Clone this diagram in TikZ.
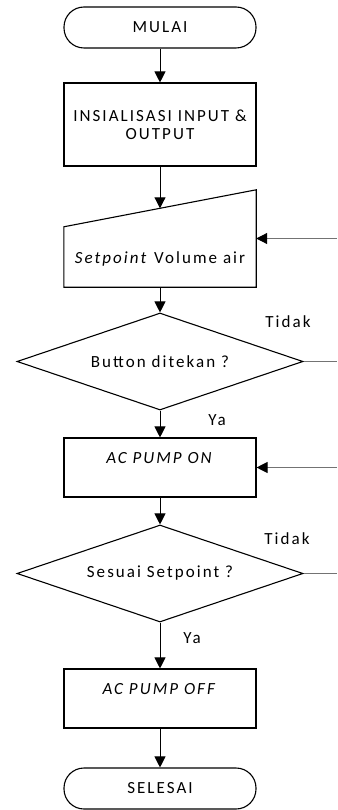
\documentclass[tikz,border=0pt]{standalone}
\usepackage{fontspec}
\setmainfont{Carlito}[LetterSpace=12]
\usetikzlibrary{arrows.meta,shapes.geometric}

\tikzset{
    term/.style={draw, rectangle, rounded corners=20pt, minimum width=192pt, minimum height=41pt, line width=1.1pt},
    proc/.style={draw, rectangle, minimum width=192pt, line width=1.1pt, align=center},
    decision/.style={draw, diamond, aspect=2.95, minimum width=286pt, minimum height=97pt, inner sep=0pt, line width=1.1pt},
    flow/.style={-{Triangle[length=11pt,width=11pt,color=black]}, line width=1pt},
    back/.style={black!55, line width=1pt}
}

\begin{document}
\begin{tikzpicture}[x=1pt, y=-1pt, font=\fontsize{17}{18}\selectfont]
    \useasboundingbox (0,0) rectangle (337,810);
    \coordinate (edge) at (337,0);

    % Main column
    \node[term] (mulai) at (160,27.5) {MULAI};
    \node[proc, minimum height=83pt] (init) at (160,124.5) {INSIALISASI INPUT \&\\OUTPUT};

    % Manual input box
    \node[minimum width=192pt, minimum height=97pt, inner sep=0pt] (setp) at (160,238.5) {};
    \draw[line width=1.1pt] (setp.south west) -- (setp.south east) -- (setp.north east)
        -- ([yshift=-37pt]setp.north west) -- cycle;
    \coordinate (setptop) at ([yshift=-18.5pt]setp.north);
    \node (setptxt) at (160,259) {\textit{Setpoint} Volume air};

    \node[decision] (btn) at (160,361.5) {Button ditekan ?};
    \node[proc, minimum height=59pt, text depth=19pt] (on) at (160,467.5) {\textit{AC PUMP ON}};
    \node[decision] (sesuai) at (160,573.5) {Sesuai Setpoint ?};
    \node[proc, minimum height=59pt, text depth=19pt] (off) at (160,698.5) {\textit{AC PUMP OFF}};
    \node[term] (selesai) at (160,788.5) {SELESAI};

    % Branch labels
    \node (tidak1) at (288,322) {Tidak};
    \node (ya1) at (217,420) {Ya};
    \node (tidak2) at (287,539) {Tidak};
    \node (ya2) at (192,638) {Ya};

    % Arrows down the column
    \draw[flow] (mulai) -- (init);
    \draw[flow] (init) -- (setptop);
    \draw[flow] (setp.south) -- (btn);
    \draw[flow] (btn) -- (on);
    \draw[flow] (on) -- (sesuai);
    \draw[flow] (sesuai) -- (off);
    \draw[flow] (off) -- (selesai);

    % Loops back from the right edge
    \draw[back, flow] (setp.east -| edge) -- (setp.east);
    \draw[back] (btn.east) -- (btn.east -| edge);
    \draw[back, flow] (on.east -| edge) -- (on.east);
    \draw[back] (sesuai.east) -- (sesuai.east -| edge);
\end{tikzpicture}
\end{document}
